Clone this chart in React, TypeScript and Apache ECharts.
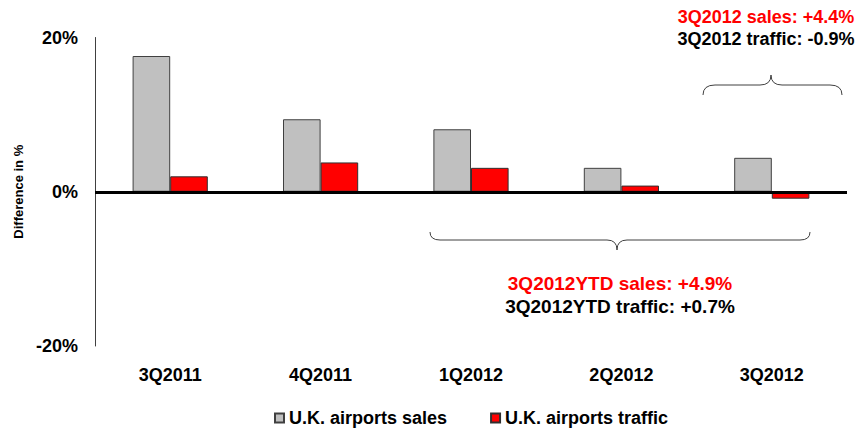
import React, { useEffect, useRef } from "react";
import * as echarts from "echarts";

const categories = ["3Q2011", "4Q2011", "1Q2012", "2Q2012", "3Q2012"];
const salesValues = [17.6, 9.4, 8.1, 3.1, 4.4];
const trafficValues = [2.0, 3.8, 3.1, 0.8, -0.9];
const yTicks = { min: -20, max: 20, interval: 20 };
const seriesNames = ["U.K. airports sales", "U.K. airports traffic"];
const quarterNote = ["3Q2012 sales: +4.4%", "3Q2012 traffic: -0.9%"];
const ytdNote = ["3Q2012YTD sales: +4.9%", "3Q2012YTD traffic: +0.7%"];

const FONT = "'Liberation Sans', Arial, Helvetica, sans-serif";

echarts.graphic.registerShape(
  "braceTop",
  echarts.graphic.extendPath(
    "M703,95 Q703,85 715,85 L760,85 Q771,85 771,75 Q771,85 782,85 L830,85 Q842,85 842,95",
    {}
  )
);
echarts.graphic.registerShape(
  "braceBottom",
  echarts.graphic.extendPath(
    "M430,232 Q430,240 440,240 L607,240 Q617,240 617,250 Q617,240 627,240 L800,240 Q810,240 810,232",
    {}
  )
);

export default function App() {
  const ref = useRef<HTMLDivElement>(null);
  useEffect(() => {
    document.body.style.margin = "0";
    const chart = echarts.init(ref.current!, null, { renderer: "svg" });
    chart.setOption({
      animation: false,
      backgroundColor: "#ffffff",
      grid: { left: 95, right: 18, top: 37.5, bottom: 83, containLabel: false },
      legend: {
        data: seriesNames,
        left: 269,
        top: 404,
        itemWidth: 9,
        itemHeight: 9,
        itemGap: 43,
        icon: "rect",
        textStyle: { fontFamily: FONT, fontWeight: "bold", fontSize: 18, color: "#000" },
      },
      xAxis: {
        type: "category",
        data: categories,
        axisLine: { show: false },
        axisTick: { show: false },
        axisLabel: { margin: 20, fontFamily: FONT, fontWeight: "bold", fontSize: 18, color: "#000" },
      },
      yAxis: {
        type: "value",
        min: yTicks.min,
        max: yTicks.max,
        interval: yTicks.interval,
        name: "Difference in %",
        nameLocation: "middle",
        nameGap: 68,
        nameTextStyle: { fontFamily: FONT, fontWeight: "bold", fontSize: 13, color: "#000" },
        axisLine: { show: true, lineStyle: { color: "#404040", width: 1 } },
        axisTick: { show: false },
        splitLine: { show: false },
        axisLabel: {
          margin: 17,
          formatter: "{value}%",
          fontFamily: FONT,
          fontWeight: "bold",
          fontSize: 18,
          color: "#000",
        },
      },
      series: [
        {
          name: seriesNames[0],
          type: "bar",
          data: salesValues,
          barWidth: "25%",
          barGap: "0%",
          itemStyle: { color: "#C0C0C0", borderColor: "#404040", borderWidth: 1 },
          markLine: {
            silent: true,
            symbol: "none",
            label: { show: false },
            lineStyle: { color: "#000", width: 3, type: "solid" },
            data: [{ yAxis: 0 }],
          },
        },
        {
          name: seriesNames[1],
          type: "bar",
          data: trafficValues,
          barWidth: "25%",
          barGap: "0%",
          itemStyle: { color: "#FF0000", borderColor: "#303030", borderWidth: 1 },
        },
      ],
      graphic: [
        { type: "braceTop", x: 0, y: 0, style: { fill: null, stroke: "#404040", lineWidth: 1 } },
        { type: "braceBottom", x: 0, y: 0, style: { fill: null, stroke: "#404040", lineWidth: 1 } },
        {
          type: "text",
          x: 766,
          y: 17,
          style: {
            text: quarterNote[0],
            fill: "#FF0000",
            font: `bold 18px ${FONT}`,
            textAlign: "center",
            textVerticalAlign: "middle",
          },
        },
        {
          type: "text",
          x: 766,
          y: 39,
          style: {
            text: quarterNote[1],
            fill: "#000",
            font: `bold 18px ${FONT}`,
            textAlign: "center",
            textVerticalAlign: "middle",
          },
        },
        {
          type: "text",
          x: 620,
          y: 283,
          style: {
            text: ytdNote[0],
            fill: "#FF0000",
            font: `bold 19px ${FONT}`,
            textAlign: "center",
            textVerticalAlign: "middle",
          },
        },
        {
          type: "text",
          x: 620,
          y: 306,
          style: {
            text: ytdNote[1],
            fill: "#000",
            font: `bold 19px ${FONT}`,
            textAlign: "center",
            textVerticalAlign: "middle",
          },
        },
      ],
    });
    return () => chart.dispose();
  }, []);
  return <div ref={ref} style={{ width: 865, height: 429 }} />;
}
